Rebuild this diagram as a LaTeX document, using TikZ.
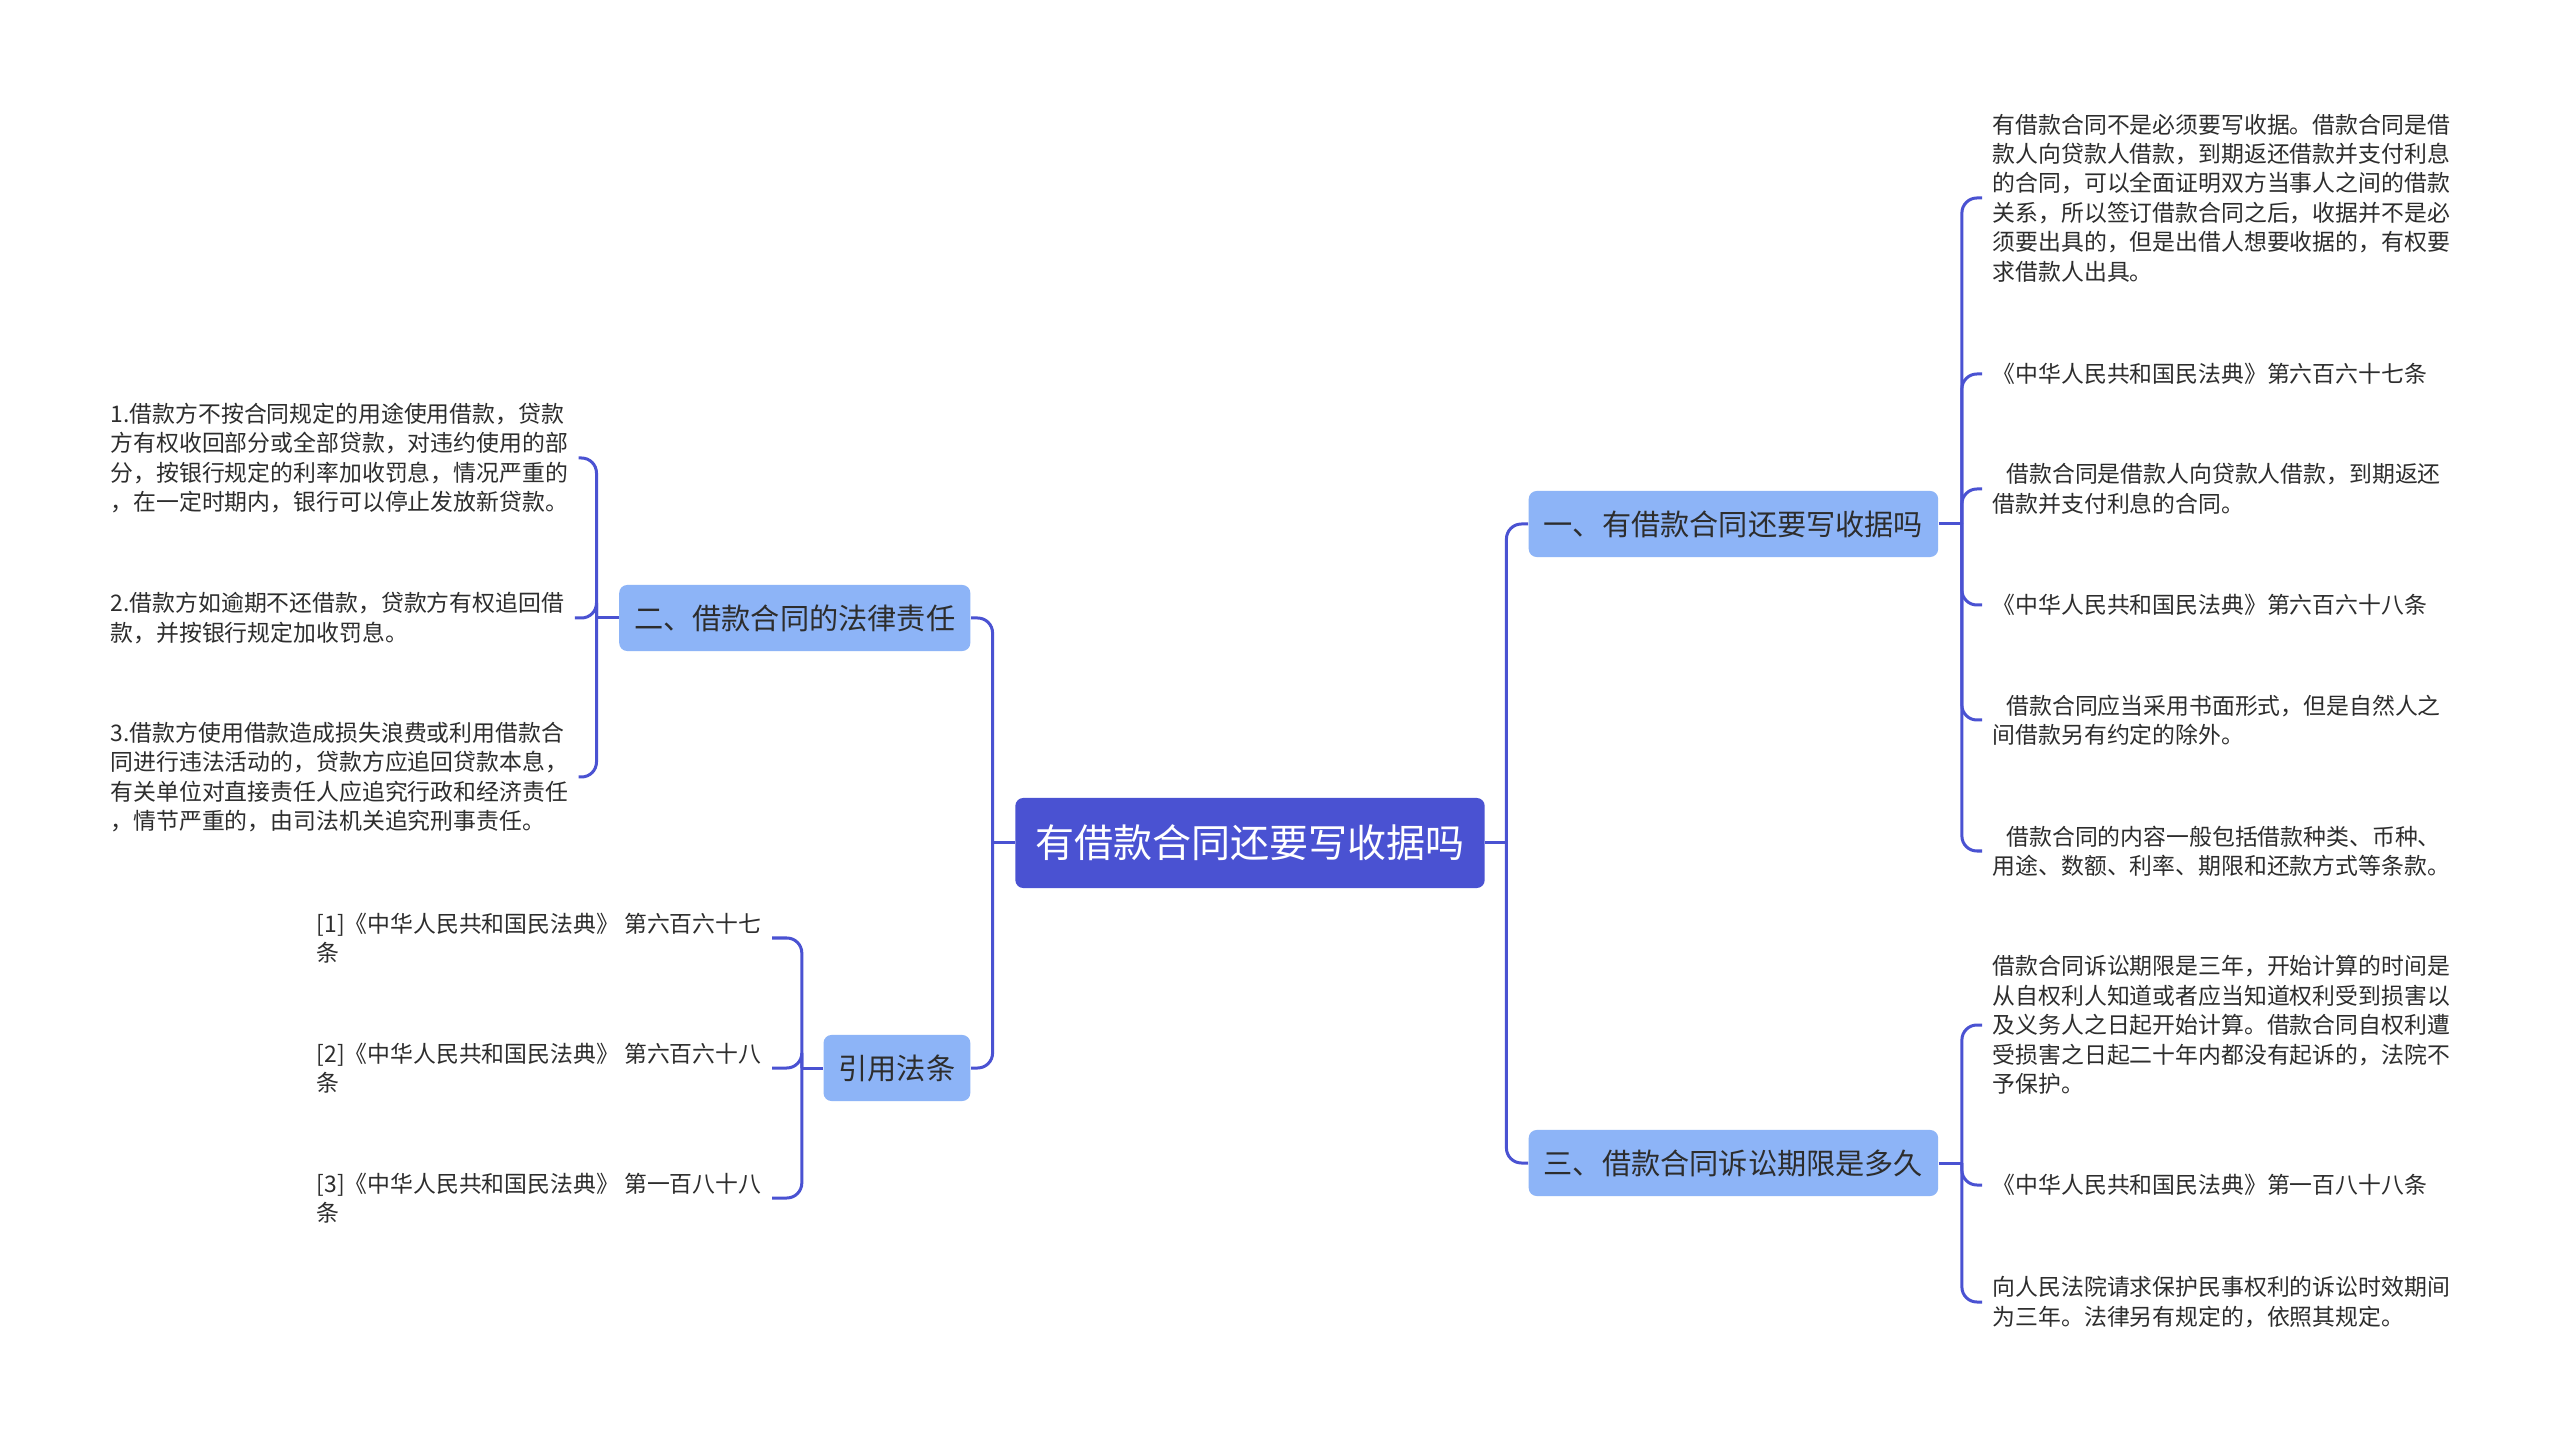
\documentclass[tikz,border=0pt]{standalone}
\usepackage{fontspec}
\setmainfont{Noto Sans CJK SC}
\usetikzlibrary{positioning,calc}
\definecolor{cA}{HTML}{4A52D2}
\definecolor{cB}{HTML}{8DB4F7}
\definecolor{cT}{HTML}{2D2D2D}
\tikzset{
  rootbox/.style={rounded corners=0.08cm,fill=cA,text=white,inner xsep=0.2cm,
              minimum height=0.9cm,font=\fontsize{11.1pt}{13pt}\selectfont},
  topic/.style={rounded corners=0.08cm,fill=cB,text=cT,inner xsep=0.15cm,
              minimum height=0.66cm,font=\fontsize{8.3pt}{10pt}\selectfont},
  leaf/.style={align=left,text=cT,inner xsep=0.1cm,inner ysep=0.05cm,
              font=\fontsize{6.5pt}{8.35pt}\selectfont},
  link/.style={cA,line width=0.03cm,rounded corners=0.15cm},
}

\begin{document}
\begin{tikzpicture}[x=0.01cm,y=-0.01cm]
  \fill[white] (0,0) rectangle (2560,1440);
  \useasboundingbox (0,0) rectangle (2560,1440);
  \node[rootbox] (root) at (1250,843) {有借款合同还要写收据吗};
  % topics
  \node[topic,anchor=west] (t1) at (1528,524) {一、有借款合同还要写收据吗};
  \node[topic,anchor=west] (t3) at (1528,1163) {三、借款合同诉讼期限是多久};
  \node[topic,anchor=east] (t2) at (971,618) {二、借款合同的法律责任};
  \node[topic,anchor=east] (t4) at (971,1068) {引用法条};
  % leaves of t1
  \node[leaf,anchor=west] (l1a) at (1982,198) {有借款合同不是必须要写收据。借款合同是借\\款人向贷款人借款，到期返还借款并支付利息\\的合同，可以全面证明双方当事人之间的借款\\关系，所以签订借款合同之后，收据并不是必\\须要出具的，但是出借人想要收据的，有权要\\求借款人出具。};
  \node[leaf,anchor=west] (l1b) at (1982,374) {《中华人民共和国民法典》第六百六十七条};
  \node[leaf,anchor=west] (l1c) at (1982,489) {\hspace*{.6em}借款合同是借款人向贷款人借款，到期返还\\借款并支付利息的合同。};
  \node[leaf,anchor=west] (l1d) at (1982,605) {《中华人民共和国民法典》第六百六十八条};
  \node[leaf,anchor=west] (l1e) at (1982,720) {\hspace*{.6em}借款合同应当采用书面形式，但是自然人之\\间借款另有约定的除外。};
  \node[leaf,anchor=west] (l1f) at (1982,851) {\hspace*{.6em}借款合同的内容一般包括借款种类、币种、\\用途、数额、利率、期限和还款方式等条款。};
  % leaves of t3
  \node[leaf,anchor=west] (l3a) at (1982,1025) {借款合同诉讼期限是三年，开始计算的时间是\\从自权利人知道或者应当知道权利受到损害以\\及义务人之日起开始计算。借款合同自权利遭\\受损害之日起二十年内都没有起诉的，法院不\\予保护。};
  \node[leaf,anchor=west] (l3b) at (1982,1185) {《中华人民共和国民法典》第一百八十八条};
  \node[leaf,anchor=west] (l3c) at (1982,1302) {向人民法院请求保护民事权利的诉讼时效期间\\为三年。法律另有规定的，依照其规定。};
  % leaves of t2
  \node[leaf,anchor=west] (l2a) at (100,458) {1.借款方不按合同规定的用途使用借款，贷款\\方有权收回部分或全部贷款，对违约使用的部\\分，按银行规定的利率加收罚息，情况严重的\\，在一定时期内，银行可以停止发放新贷款。};
  \node[leaf,anchor=west] (l2b) at (100,618) {2.借款方如逾期不还借款，贷款方有权追回借\\款，并按银行规定加收罚息。};
  \node[leaf,anchor=west] (l2c) at (100,777) {3.借款方使用借款造成损失浪费或利用借款合\\同进行违法活动的，贷款方应追回贷款本息，\\有关单位对直接责任人应追究行政和经济责任\\，情节严重的，由司法机关追究刑事责任。};
  % leaves of t4
  \node[leaf,anchor=west] (l4a) at (306,938) {[1]《中华人民共和国民法典》 第六百六十七\\条};
  \node[leaf,anchor=west] (l4b) at (306,1068) {[2]《中华人民共和国民法典》 第六百六十八\\条};
  \node[leaf,anchor=west] (l4c) at (306,1198) {[3]《中华人民共和国民法典》 第一百八十八\\条};
  % connectors
  \coordinate (jR) at ([xshift=0.21cm]root.east);
  \coordinate (jL) at ([xshift=-0.22cm]root.west);
  \draw[link] (root.east) -- (jR);
  \draw[link] (root.west) -- (jL);
  \foreach \t in {t1,t3} \draw[link] (jR) |- (\t.west);
  \foreach \t in {t2,t4} \draw[link] (jL) |- (\t.east);
  \coordinate (j1) at ([xshift=0.23cm]t1.east);
  \coordinate (j3) at ([xshift=0.23cm]t3.east);
  \coordinate (j2) at ([xshift=-0.22cm]t2.west);
  \coordinate (j4) at ([xshift=-0.21cm]t4.west);
  \draw[link] (t1.east) -- (j1);
  \draw[link] (t3.east) -- (j3);
  \draw[link] (t2.west) -- (j2);
  \draw[link] (t4.west) -- (j4);
  \foreach \l in {a,...,f} \draw[link] (j1) |- (l1\l.west);
  \foreach \l in {a,b,c} {
    \draw[link] (j3) |- (l3\l.west);
    \draw[link] (j2) |- (l2\l.east);
    \draw[link] (j4) |- (l4\l.east);
  }
\end{tikzpicture}
\end{document}
